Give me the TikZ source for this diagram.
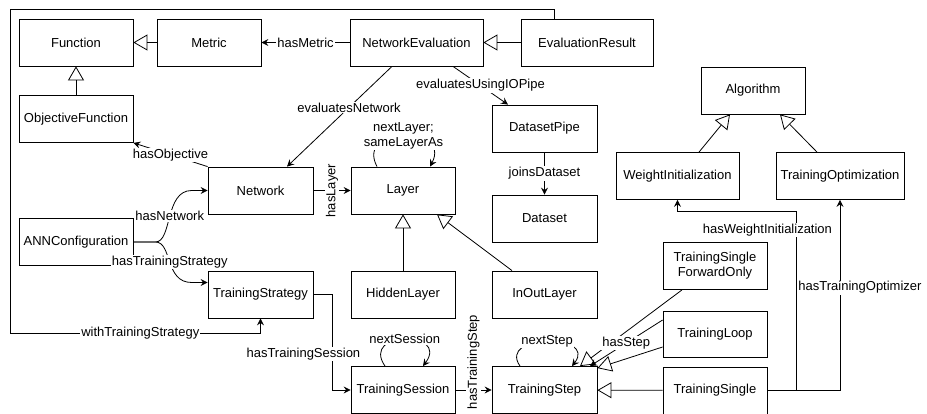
\documentclass[tikz,border=0pt]{standalone}
\usepackage{fontspec}
\setmainfont{Liberation Sans}
\usepackage{tikz}
\usetikzlibrary{arrows.meta,calc}
\tikzstyle{cls}=[draw,rectangle,minimum width=104pt,minimum height=47pt,inner sep=0pt,align=center]
\tikzstyle{lbl}=[fill=white,inner sep=1pt,align=center]
\tikzstyle{edge} = [draw,line width=0.8pt,-]

\begin{document}
\begin{tikzpicture}[x=1pt,y=-1pt,font=\fontsize{13}{15}\selectfont,line width=0.8pt]
        \tikzset{assoc/.style = {edge,-{Stealth[length=7pt,width=7pt,inset=2.5pt]}},
                 gen/.style = {edge,-{Triangle[open,length=14pt,width=16pt]}}}
        \useasboundingbox (0,0) rectangle (927,414);
        % classes
        \node[cls,minimum width=114pt] (func) at (76,42.5) {Function};
        \node[cls] (metric) at (209,42.5) {Metric};
        \node[cls,minimum width=133pt] (neteval) at (416.5,42.5) {NetworkEvaluation};
        \node[cls,minimum width=132pt] (evalres) at (587,42.5) {EvaluationResult};
        \node[cls,minimum width=114pt] (objf) at (76,119) {ObjectiveFunction};
        \node[cls,minimum width=105pt] (net) at (260.5,190.5) {Network};
        \node[cls] (layer) at (403,190.5) {Layer};
        \node[cls,minimum width=114pt] (ann) at (76,242) {ANNConfiguration};
        \node[cls,minimum width=105pt] (tstrat) at (260.5,294.5) {TrainingStrategy};
        \node[cls] (hidden) at (403,294.5) {HiddenLayer};
        \node[cls] (tsess) at (403,390) {TrainingSession};
        \node[cls,minimum width=105pt] (dpipe) at (544.5,128.5) {DatasetPipe};
        \node[cls,minimum width=105pt] (dset) at (544.5,218.5) {Dataset};
        \node[cls,minimum width=105pt] (inout) at (544.5,294.5) {InOutLayer};
        \node[cls,minimum width=105pt] (tstep) at (544.5,390) {TrainingStep};
        \node[cls] (algo) at (753,90.5) {Algorithm};
        \node[cls,minimum width=123pt] (winit) at (677.5,176) {WeightInitialization};
        \node[cls,minimum width=128pt] (topt) at (840,176) {TrainingOptimization};
        \node[cls] (tsfo) at (715,266) {TrainingSingle\\ForwardOnly};
        \node[cls,minimum height=46pt] (tloop) at (715,334) {TrainingLoop};
        \node[cls] (tsingle) at (715,390.5) {TrainingSingle};
        % generalizations
        \draw[gen] (metric) to (func);
        \draw[gen] (evalres) to (neteval);
        \draw[gen] (objf) to (func);
        \draw[gen] (hidden) to (layer);
        \draw[gen] ($(inout.north)+(-32.5,0)$) to ($(layer.south)+(34,0)$);
        \draw[gen] ($(winit.north)+(21.5,0)$) to ($(algo.south)+(-23,0)$);
        \draw[gen] ($(topt.north)+(-23,0)$) to ($(algo.south)+(27,0)$);
        \draw[gen] ($(tsfo.south)+(-33,0)$) to ($(tstep.north)+(35.5,0)$);
        \draw[gen] ($(tloop.west)+(0,13)$) to ($(tstep.north east)+(0,2)$);
        \draw[gen] (tsingle) to (tstep);
        % associations
        \draw[assoc] (neteval) to node[lbl]{hasMetric} (metric);
        \draw[assoc] ($(neteval.south)+(-24.5,0)$) to node[lbl,pos=0.41]{evaluatesNetwork} ($(net.north)+(26.5,0)$);
        \draw[assoc] ($(neteval.south)+(36.5,0)$) to node[lbl]{evaluatesUsingIOPipe} ($(dpipe.north)+(-36.5,0)$);
        \draw[assoc] (dpipe) to node[lbl]{joinsDataset} (dset);
        \draw[assoc] (net.north west) to node[lbl]{hasObjective} (objf.south east);
        \draw[assoc] (net) to node[lbl,rotate=90]{hasLayer} (layer);
        \draw[assoc] ($(layer.north)+(-26,0)$) .. controls (355,125) and (452,125) .. ($(layer.north)+(27,0)$)
                node[lbl,midway]{nextLayer;\\sameLayerAs};
        \draw[assoc] (ann.east) -- ++(22,0) .. controls +(17,0) and ($(net.west)+(-43,0)$) .. ($(net.west)+(-16,0)$)
                node[lbl,midway]{hasNetwork} -- (net.west);
        \draw[assoc] (ann.east) -- ++(22,0) .. controls +(17,0) and ($(tstrat.west)+(-43,-12)$) .. ($(tstrat.west)+(-16,-12)$)
                node[lbl,midway]{hasTrainingStrategy} -- ($(tstrat.west)+(0,-12)$);
        \draw[assoc] ($(evalres.north)+(-33,0)$) -- ++(0,-9.5) -| (10,333) -| (tstrat.south)
                node[lbl,pos=0.26]{withTrainingStrategy};
        \draw[assoc] (tstrat.east) -- ++(19,0) |- (tsess.west) node[lbl,pos=0.31,xshift=-29pt]{hasTrainingSession};
        \draw[assoc] ($(tsess.north)+(-18,0)$) .. controls (360,330) and (450,330) .. ($(tsess.north)+(20,0)$)
                node[lbl,midway]{nextSession};
        \draw[assoc] (tsess) to node[lbl,yshift=28pt,rotate=90]{hasTrainingStep} (tstep);
        \draw[assoc] ($(tstep.north)+(-24.5,0)$) .. controls (497,333) and (598,333) .. ($(tstep.north)+(27.5,0)$)
                node[lbl,midway]{nextStep};
        \draw[assoc] ($(tloop.west)+(0,-14)$) to node[lbl]{hasStep} ($(tstep.north)+(45.5,0)$);
        \draw[assoc] (tsingle.east) -- ++(29,0) |- ($(winit.south)+(0,12)$)
                node[lbl,pos=0.45,xshift=-29pt]{hasWeightInitialization} -- (winit.south);
        \draw[assoc] (tsingle.east) -| (topt.south) node[lbl,pos=0.77,xshift=20pt]{hasTrainingOptimizer};
      \end{tikzpicture}
\end{document}
